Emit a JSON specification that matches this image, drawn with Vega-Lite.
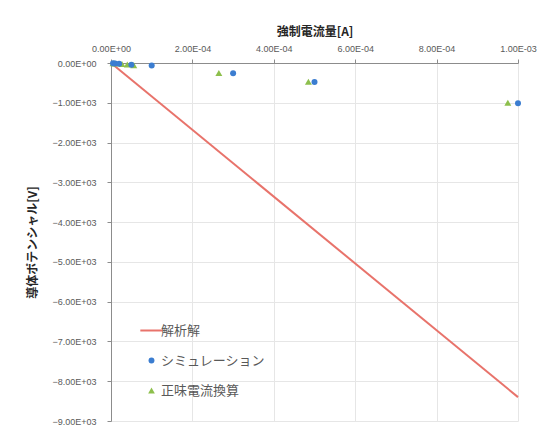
{
  "$schema": "https://vega.github.io/schema/vega-lite/v6.json",
  "width": 407,
  "height": 358,
  "autosize": {"type": "none"},
  "padding": {"left": 111, "top": 63, "right": 42, "bottom": 7},
  "background": "white",
  "config": {
    "font": "Noto Sans CJK JP",
    "view": {"stroke": null},
    "axis": {
      "labelFont": "Liberation Sans",
      "labelFontSize": 9,
      "labelColor": "#595959",
      "labelFlush": false,
      "labelOverlap": false,
      "domainColor": "#8c8c8c",
      "tickColor": "#8c8c8c",
      "gridColor": "#e6e6e6",
      "titleFont": "Noto Sans CJK JP",
      "titleFontSize": 12,
      "titleFontWeight": "bold",
      "titleColor": "#262626"
    }
  },
  "data": {
    "values": [
      {"series": "解析解", "I": 0, "V": 0},
      {"series": "解析解", "I": 0.001, "V": -8400},
      {"series": "シミュレーション", "I": 0.000005, "V": -5},
      {"series": "シミュレーション", "I": 0.00001, "V": -10},
      {"series": "シミュレーション", "I": 0.00002, "V": -20},
      {"series": "シミュレーション", "I": 0.00005, "V": -45},
      {"series": "シミュレーション", "I": 0.0001, "V": -60},
      {"series": "シミュレーション", "I": 0.0003, "V": -260},
      {"series": "シミュレーション", "I": 0.0005, "V": -480},
      {"series": "シミュレーション", "I": 0.001, "V": -1010},
      {"series": "正味電流換算", "I": 0.000005, "V": -5},
      {"series": "正味電流換算", "I": 0.00001, "V": -10},
      {"series": "正味電流換算", "I": 0.000027, "V": -25},
      {"series": "正味電流換算", "I": 0.00004, "V": -38},
      {"series": "正味電流換算", "I": 0.000056, "V": -55},
      {"series": "正味電流換算", "I": 0.000265, "V": -250},
      {"series": "正味電流換算", "I": 0.000485, "V": -470},
      {"series": "正味電流換算", "I": 0.000975, "V": -1000}
    ]
  },
  "encoding": {
    "x": {
      "field": "I",
      "type": "quantitative",
      "scale": {"domain": [0, 0.001], "nice": false, "zero": false},
      "axis": {
        "orient": "top",
        "title": "強制電流量[A]",
        "values": [0, 0.0002, 0.0004, 0.0006, 0.0008, 0.001],
        "labelExpr": "datum.value == 0 ? '0.00E+00' : (datum.value > 0.0009 ? '1.00E-03' : format(datum.value*10000, '.2f') + 'E-04')",
        "tickSize": 4,
        "labelPadding": 6,
        "titlePadding": 6
      }
    },
    "y": {
      "field": "V",
      "type": "quantitative",
      "scale": {"domain": [-9000, 0], "nice": false, "zero": false},
      "axis": {
        "title": "導体ポテンシャル[V]",
        "values": [0, -1000, -2000, -3000, -4000, -5000, -6000, -7000, -8000, -9000],
        "labelExpr": "datum.value == 0 ? '0.00E+00' : format(datum.value/1000, '.2f') + 'E+03'",
        "tickSize": 4,
        "labelPadding": 11,
        "titlePadding": 12
      }
    },
    "color": {
      "field": "series",
      "type": "nominal",
      "scale": {
        "domain": ["解析解", "シミュレーション", "正味電流換算"],
        "range": ["#e8736b", "#3b7dd0", "#8dbf4c"]
      },
      "legend": {
        "orient": "none",
        "legendX": 34,
        "legendY": 261,
        "title": null,
        "labelFont": "Noto Sans CJK JP",
        "labelFontSize": 13,
        "labelColor": "#595959",
        "labelOffset": 3,
        "rowPadding": 16,
        "symbolSize": 500,
        "encode": {
          "symbols": {
            "update": {
              "size": {"signal": "datum.value === '解析解' ? 500 : (datum.value === '正味電流換算' ? 45 : 35)"},
              "stroke": {"scale": "color", "field": "value"},
              "strokeWidth": {"signal": "datum.value === '解析解' ? 2 : 0"}
            }
          }
        }
      }
    },
    "shape": {
      "field": "series",
      "type": "nominal",
      "scale": {
        "domain": ["解析解", "シミュレーション", "正味電流換算"],
        "range": ["stroke", "circle", "triangle-up"]
      },
      "legend": {
        "orient": "none",
        "legendX": 34,
        "legendY": 261,
        "title": null,
        "labelFont": "Noto Sans CJK JP",
        "labelFontSize": 13,
        "labelColor": "#595959",
        "labelOffset": 3,
        "rowPadding": 16,
        "symbolSize": 500
      }
    }
  },
  "layer": [
    {
      "transform": [{"filter": "datum.series == '解析解'"}],
      "mark": {"type": "line", "strokeWidth": 2},
      "encoding": {"shape": {"value": "stroke"}}
    },
    {
      "transform": [{"filter": "datum.series == '正味電流換算'"}],
      "mark": {"type": "point", "filled": true, "opacity": 1, "size": 48}
    },
    {
      "transform": [{"filter": "datum.series == 'シミュレーション'"}],
      "mark": {"type": "point", "filled": true, "opacity": 1, "size": 36}
    }
  ]
}
